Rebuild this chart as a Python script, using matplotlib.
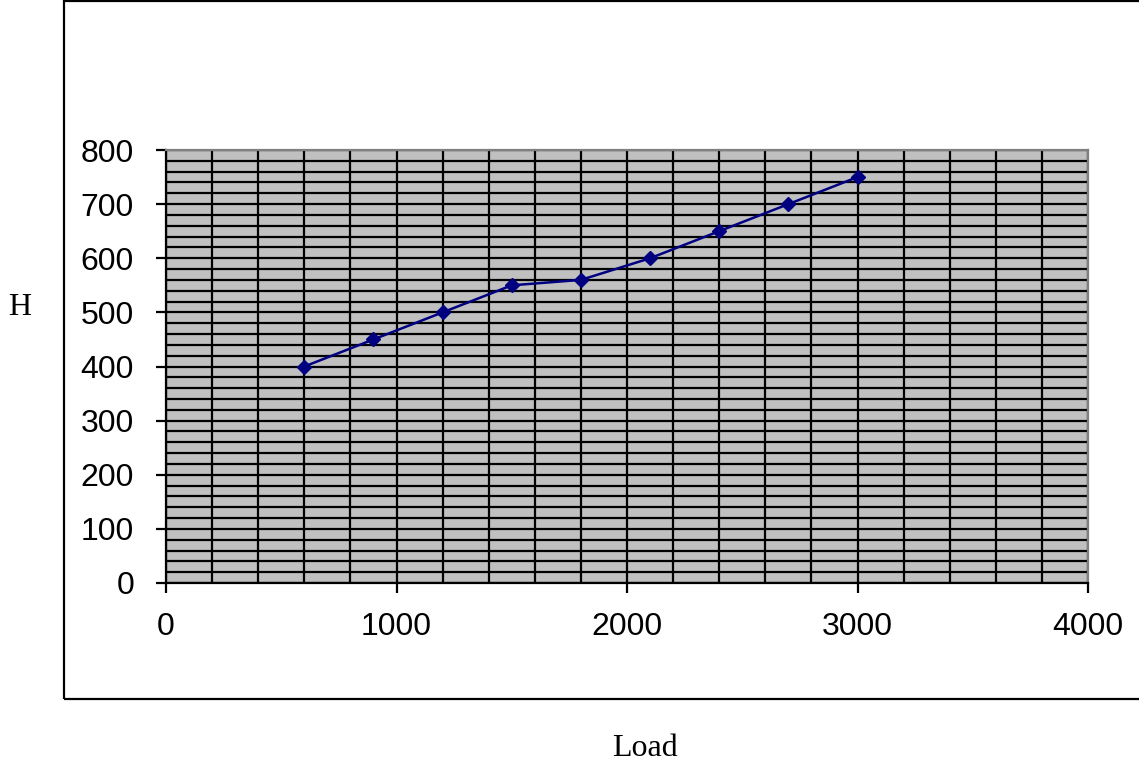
import numpy as np
import matplotlib.pyplot as plt
from matplotlib.patches import Rectangle
from matplotlib.ticker import MultipleLocator

# data
load = [600, 900, 1200, 1500, 1800, 2100, 2400, 2700, 3000]
h_val = [400, 450, 500, 550, 560, 600, 650, 700, 750]

fig = plt.figure(figsize=(11.39, 7.67), dpi=100)

# outer chart frame (right edge runs off the picture)
fig.patches.append(Rectangle((64 / 1139, 1 - 699 / 767), 1.2, (699 - 1) / 767,
                             transform=fig.transFigure, fill=False,
                             edgecolor='black', linewidth=1.6))

ax = fig.add_axes([166 / 1139, 1 - 583 / 767, 922 / 1139, 433 / 767])
ax.set_facecolor('#C0C0C0')

ax.plot(load, h_val, color='#000080', linewidth=1.8, marker='D',
        markersize=7, markerfacecolor='#000080', markeredgecolor='#000080',
        zorder=5, clip_on=False)

ax.set_xlim(0, 4000)
ax.set_ylim(0, 800)
ax.xaxis.set_major_locator(MultipleLocator(1000))
ax.xaxis.set_minor_locator(MultipleLocator(200))
ax.yaxis.set_major_locator(MultipleLocator(100))
ax.yaxis.set_minor_locator(MultipleLocator(20))

ax.grid(which='both', color='black', linewidth=1.6)
ax.set_axisbelow(True)
ax.tick_params(which='minor', length=0)
ax.tick_params(which='major', direction='out', length=7, width=1.6,
               labelsize=23, color='black')
ax.tick_params(axis='y', pad=16)
ax.tick_params(axis='x', pad=14)

for lbl in ax.get_xticklabels() + ax.get_yticklabels():
    lbl.set_fontfamily('Liberation Sans')

ax.spines['left'].set_color('black')
ax.spines['bottom'].set_color('black')
ax.spines['left'].set_linewidth(1.6)
ax.spines['bottom'].set_linewidth(1.6)
ax.spines['top'].set_color('#808080')
ax.spines['right'].set_color('#808080')
ax.spines['top'].set_linewidth(1.6)
ax.spines['right'].set_linewidth(1.6)

fig.text(20 / 1139, 1 - 308 / 767, 'H', fontsize=23, family='Liberation Serif',
         ha='center', va='center')
fig.text(645 / 1139, 1 - 748 / 767, 'Load', fontsize=23, family='Liberation Serif',
         ha='center', va='center')

fig.savefig('out.png', dpi=100)
